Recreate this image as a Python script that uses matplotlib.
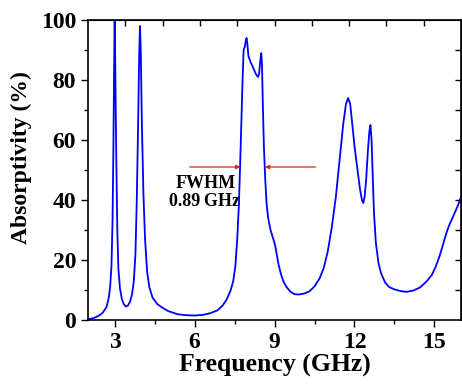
import numpy as np
import matplotlib.pyplot as plt
from matplotlib.ticker import MultipleLocator, NullFormatter

# absorption spectrum
freq = [2.0, 2.2, 2.4, 2.55, 2.7, 2.78, 2.83, 2.88, 2.92, 2.95, 2.98, 3.0, 3.02, 3.04,
        3.07, 3.1, 3.14, 3.2, 3.27, 3.34, 3.42, 3.5, 3.58, 3.65, 3.72, 3.78, 3.83, 3.88,
        3.92, 3.95, 3.98, 4.02, 4.08, 4.14, 4.22, 4.3, 4.42, 4.6, 4.76, 5.0, 5.37, 5.7,
        6.0, 6.3, 6.6, 6.85, 7.05, 7.2, 7.35, 7.45, 7.53, 7.6, 7.66, 7.71, 7.76, 7.8, 7.84,
        7.88, 7.92, 7.95, 7.98, 8.02, 8.1, 8.2, 8.3, 8.38, 8.42, 8.46, 8.5, 8.53, 8.56, 8.6,
        8.65, 8.7, 8.76, 8.85, 8.95, 9.02, 9.08, 9.15, 9.25, 9.35, 9.45, 9.6, 9.75, 9.9,
        10.1, 10.3, 10.5, 10.7, 10.85, 11.0, 11.15, 11.3, 11.45, 11.58, 11.68, 11.76, 11.84,
        11.92, 12.0, 12.1, 12.2, 12.28, 12.33, 12.38, 12.44, 12.5, 12.56, 12.6, 12.64,
        12.68, 12.73, 12.8, 12.9, 13.0, 13.15, 13.3, 13.5, 13.75, 13.95, 14.2, 14.45, 14.7,
        14.9, 15.05, 15.2, 15.35, 15.45, 15.55, 15.7, 15.85, 16.0]
absorb = [0.3, 0.6, 1.4, 2.4, 4.4, 7.5, 11, 18, 33, 55, 85, 100, 88, 70,
          48, 30, 17, 10.5, 7, 5.3, 4.5, 4.8, 6.2, 8.5, 13, 22, 40, 65,
          88, 98, 90, 66, 42, 27, 16, 11, 7.5, 5.3, 4.3, 3.0, 1.9, 1.6,
          1.5, 1.7, 2.3, 3.2, 4.8, 6.8, 9.8, 13, 18, 27, 38, 52, 68, 80, 90,
          91, 93, 94, 92, 88, 86, 84, 82, 81, 82, 86, 89, 85, 72, 58,
          47, 39, 34, 30, 27, 25, 22, 18.5, 15, 12.5, 11, 9.4, 8.6, 8.5,
          8.8, 9.5, 11.2, 14, 17.5, 23, 31, 41, 54, 65.5, 72, 74, 72,
          65, 58, 51, 44, 40, 39, 41, 47, 56, 63, 65, 60,
          49, 36, 26, 19, 15.5, 12.5, 11, 10.2, 9.6, 9.4, 9.8, 10.8, 12.8,
          15, 17.8, 21.5, 26, 29, 31.5, 34.5, 37.5, 41]

# FWHM markers
fwhm_level = 51
fwhm_left = 7.72
fwhm_right = 8.64

plt.rcParams['font.family'] = ['Liberation Serif', 'DejaVu Serif']
plt.rcParams['font.weight'] = 'bold'

fig = plt.figure(figsize=(4.62, 3.85), dpi=100)
ax = fig.add_axes([0.1905, 0.1688, 0.8075, 0.7792])

ax.plot(freq, absorb, color='#0000ff', lw=1.3)

ax.annotate('', xy=(fwhm_left, fwhm_level), xytext=(5.82, fwhm_level),
            arrowprops=dict(arrowstyle='-|>', color='#e02020', lw=0.9,
                            mutation_scale=6, shrinkA=0, shrinkB=0))
ax.annotate('', xy=(fwhm_right, fwhm_level), xytext=(10.54, fwhm_level),
            arrowprops=dict(arrowstyle='-|>', color='#e02020', lw=0.9,
                            mutation_scale=6, shrinkA=0, shrinkB=0))
ax.text(6.42, 45.6, 'FWHM', ha='center', va='center', fontsize=13, fontweight='bold')
ax.text(6.37, 39.4, '0.89\u2009GHz', ha='center', va='center', fontsize=13,
        fontweight='bold', family=['Liberation Serif', 'DejaVu Serif'])

ax.set_xlim(2, 16)
ax.set_ylim(0, 100)
ax.xaxis.set_major_locator(MultipleLocator(3))
ax.xaxis.set_minor_locator(MultipleLocator(1.5))
ax.yaxis.set_major_locator(MultipleLocator(20))
ax.yaxis.set_minor_locator(MultipleLocator(10))
ax.tick_params(which='both', direction='out', labelsize=17, width=1, top=False, right=False)
ax.tick_params(which='major', length=5)
ax.tick_params(which='minor', length=3)
for lab in ax.get_xticklabels() + ax.get_yticklabels():
    lab.set_fontweight('bold')

# inward ticks on top and right
top = ax.secondary_xaxis('top')
top.set_ticks([2 + 1.4 * k for k in range(1, 10)])
top.xaxis.set_major_formatter(NullFormatter())
top.tick_params(direction='in', length=4, width=1)
right = ax.secondary_yaxis('right')
right.set_ticks(range(10, 100, 10))
right.yaxis.set_major_formatter(NullFormatter())
right.tick_params(direction='in', length=4, width=1)

for s in ax.spines.values():
    s.set_linewidth(1.2)

ax.set_xlabel('Frequency (GHz)', fontsize=18.5, fontweight='bold', labelpad=1)
ax.set_ylabel('Absorptivity (%)', fontsize=17, fontweight='bold')
ax.yaxis.set_label_coords(-0.15, 0.54)

fig.savefig('out.png', dpi=100)
